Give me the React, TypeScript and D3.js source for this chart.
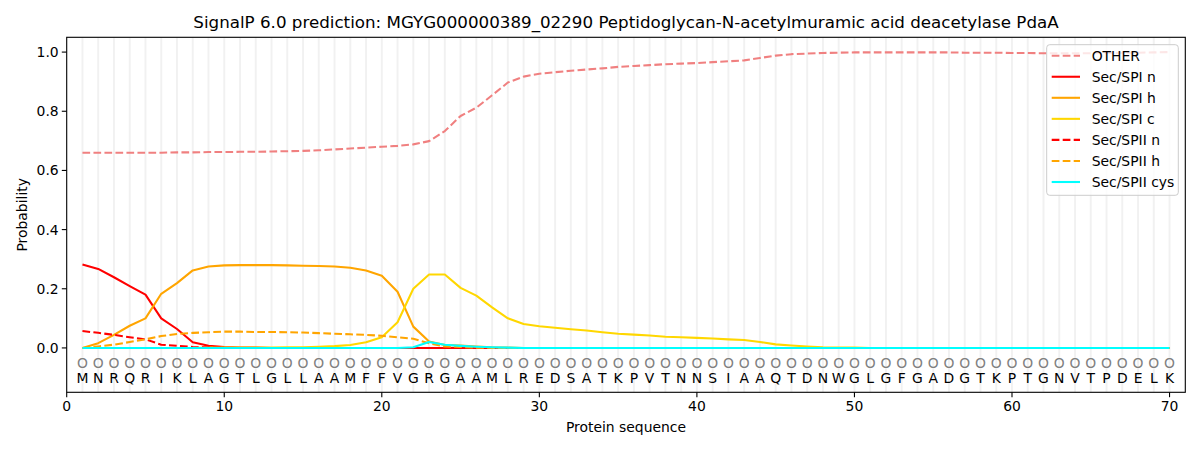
import React from "react";
import * as d3 from "d3";

const sequence = "MNRQRIKLAGTLGLLAAMFFVGRGAAMLREDSATKPVTNNSIAAQTDNWGLGFGADGTKPTGNVTPDELK".split("");
const predLabels = sequence.map(() => "O");

const other = [
  0.660, 0.660, 0.660, 0.660, 0.660, 0.660, 0.661, 0.661, 0.662, 0.662,
  0.663, 0.663, 0.664, 0.665, 0.666, 0.668, 0.671, 0.674, 0.677, 0.680,
  0.683, 0.688, 0.699, 0.733, 0.784, 0.812, 0.854, 0.897, 0.917, 0.927,
  0.932, 0.937, 0.941, 0.945, 0.950, 0.953, 0.956, 0.959, 0.961, 0.963,
  0.966, 0.969, 0.972, 0.980, 0.988, 0.993, 0.995, 0.997, 0.998, 0.999,
  0.999, 0.999, 0.999, 0.999, 0.999, 0.999, 0.998, 0.998, 0.998, 0.997,
  0.997, 0.996, 0.996, 0.996, 0.996, 0.997, 0.997, 0.998, 0.999, 1.000,
];
const spiN = [
  0.282, 0.267, 0.239, 0.209, 0.180, 0.100, 0.064, 0.019, 0.007, 0.003,
  0.001, 0.001, 0, 0, 0, 0, 0, 0, 0, 0,
  0, 0, 0, 0, 0, 0, 0, 0, 0, 0,
  0, 0, 0, 0, 0, 0, 0, 0, 0, 0,
  0, 0, 0, 0, 0, 0, 0, 0, 0, 0,
  0, 0, 0, 0, 0, 0, 0, 0, 0, 0,
  0, 0, 0, 0, 0, 0, 0, 0, 0, 0,
];
const spiH = [
  0.000, 0.016, 0.044, 0.075, 0.100, 0.183, 0.219, 0.262, 0.275, 0.279,
  0.280, 0.280, 0.280, 0.279, 0.278, 0.277, 0.275, 0.271, 0.262, 0.244,
  0.190, 0.072, 0.022, 0.010, 0.008, 0.005, 0.002, 0.001, 0, 0,
  0, 0, 0, 0, 0, 0, 0, 0, 0, 0,
  0, 0, 0, 0, 0, 0, 0, 0, 0, 0,
  0, 0, 0, 0, 0, 0, 0, 0, 0, 0,
  0, 0, 0, 0, 0, 0, 0, 0, 0, 0,
];
const spiC = [
  0, 0, 0, 0, 0, 0, 0, 0, 0.001, 0.001,
  0.001, 0.001, 0.001, 0.002, 0.002, 0.004, 0.006, 0.010, 0.019, 0.036,
  0.087, 0.200, 0.248, 0.248, 0.203, 0.177, 0.137, 0.100, 0.081, 0.073,
  0.068, 0.063, 0.059, 0.053, 0.048, 0.045, 0.042, 0.038, 0.036, 0.034,
  0.032, 0.029, 0.027, 0.020, 0.012, 0.008, 0.005, 0.002, 0.001, 0.001,
  0, 0, 0, 0, 0, 0, 0, 0, 0, 0,
  0, 0, 0, 0, 0, 0, 0, 0, 0, 0,
];
const spiiN = [
  0.057, 0.051, 0.044, 0.036, 0.029, 0.011, 0.007, 0.003, 0.001, 0,
  0, 0, 0, 0, 0, 0, 0, 0, 0, 0,
  0, 0, 0, 0, 0, 0, 0, 0, 0, 0,
  0, 0, 0, 0, 0, 0, 0, 0, 0, 0,
  0, 0, 0, 0, 0, 0, 0, 0, 0, 0,
  0, 0, 0, 0, 0, 0, 0, 0, 0, 0,
  0, 0, 0, 0, 0, 0, 0, 0, 0, 0,
];
const spiiH = [
  0.000, 0.005, 0.011, 0.020, 0.029, 0.040, 0.047, 0.051, 0.053, 0.055,
  0.055, 0.054, 0.054, 0.053, 0.052, 0.050, 0.048, 0.046, 0.044, 0.041,
  0.036, 0.031, 0.016, 0.005, 0.003, 0.001, 0, 0, 0, 0,
  0, 0, 0, 0, 0, 0, 0, 0, 0, 0,
  0, 0, 0, 0, 0, 0, 0, 0, 0, 0,
  0, 0, 0, 0, 0, 0, 0, 0, 0, 0,
  0, 0, 0, 0, 0, 0, 0, 0, 0, 0,
];
const spiiCys = [
  0, 0, 0, 0, 0, 0, 0, 0, 0, 0,
  0, 0, 0, 0, 0, 0, 0, 0, 0, 0,
  0, 0.002, 0.020, 0.011, 0.007, 0.004, 0.002, 0.001, 0, 0,
  0, 0, 0, 0, 0, 0, 0, 0, 0, 0,
  0, 0, 0, 0, 0, 0, 0, 0, 0, 0,
  0, 0, 0, 0, 0, 0, 0, 0, 0, 0,
  0, 0, 0, 0, 0, 0, 0, 0, 0, 0,
];

const seriesNames = ["OTHER", "Sec/SPI n", "Sec/SPI h", "Sec/SPI c", "Sec/SPII n", "Sec/SPII h", "Sec/SPII cys"];
const seriesValues = [other, spiN, spiH, spiC, spiiN, spiiH, spiiCys];
const seriesColors = ["#f08080", "#ff0000", "#ffa500", "#ffd700", "#ff0000", "#ffa500", "#00ffff"];
const seriesDashed = [true, false, false, false, true, true, false];

const xTicks = [0, 10, 20, 30, 40, 50, 60, 70];
const yTicks = [0, 0.2, 0.4, 0.6, 0.8, 1.0];

const W = 1200;
const H = 450;
const left = 66.7;
const right = 1185.3;
const top = 37.3;
const bottom = 392.3;
const FONT = "'DejaVu Sans', sans-serif";

export default function App() {
  const x = d3.scaleLinear().domain([0, 71]).range([left, right]);
  const y = d3.scaleLinear().domain([-0.15, 1.05]).range([bottom, top]);
  const positions = sequence.map((_, i) => i + 1);
  const line = d3
    .line<number>()
    .x((_, i) => x(i + 1))
    .y((d) => y(d));
  const dash = "7.7,3.3";
  const lw = 2.08;

  const legendX = 1046.7;
  const legendY = 44.7;
  const legendW = 131.6;
  const legendH = 150.6;
  const rowH = 21.05;

  return (
    <svg
      width={W}
      height={H}
      style={{ position: "absolute", left: 0, top: 0, background: "#fff" }}
      fontFamily={FONT}
    >
      <rect x={0} y={0} width={W} height={H} fill="#fff" />
      <text x={(left + right) / 2} y={28} textAnchor="middle" fontSize={16.7} fill="#000">
        SignalP 6.0 prediction: MGYG000000389_02290 Peptidoglycan-N-acetylmuramic acid deacetylase PdaA
      </text>
      <defs>
        <clipPath id="plotclip">
          <rect x={left} y={top} width={right - left} height={bottom - top} />
        </clipPath>
      </defs>
      <g clipPath="url(#plotclip)">
        {positions.map((p) => (
          <line key={"g" + p} x1={x(p)} x2={x(p)} y1={top} y2={bottom} stroke="#000" strokeOpacity={0.055} strokeWidth={2} />
        ))}
        {seriesValues.map((vals, k) => (
          <path
            key={"s" + k}
            d={line(vals) || ""}
            fill="none"
            stroke={seriesColors[k]}
            strokeWidth={lw}
            strokeDasharray={seriesDashed[k] ? dash : undefined}
            strokeLinejoin="round"
          />
        ))}
        {positions.map((p, i) => (
          <text key={"o" + p} x={x(p)} y={y(-0.05)} textAnchor="middle" dominantBaseline="central" fontSize={13.9} fill="#808080">
            {predLabels[i]}
          </text>
        ))}
        {positions.map((p, i) => (
          <text key={"a" + p} x={x(p)} y={y(-0.1)} textAnchor="middle" dominantBaseline="central" fontSize={13.9} fill="#000">
            {sequence[i]}
          </text>
        ))}
      </g>
      <rect x={left} y={top} width={right - left} height={bottom - top} fill="none" stroke="#000" strokeWidth={1.1} />
      {xTicks.map((t) => (
        <g key={"xt" + t}>
          <line x1={x(t)} x2={x(t)} y1={bottom} y2={bottom + 4.9} stroke="#000" strokeWidth={1.1} />
          <text x={x(t)} y={bottom + 18.5} textAnchor="middle" fontSize={13.9} fill="#000">
            {t}
          </text>
        </g>
      ))}
      {yTicks.map((t) => (
        <g key={"yt" + t}>
          <line x1={left - 4.9} x2={left} y1={y(t)} y2={y(t)} stroke="#000" strokeWidth={1.1} />
          <text x={left - 8} y={y(t)} textAnchor="end" dominantBaseline="central" fontSize={13.9} fill="#000">
            {t.toFixed(1)}
          </text>
        </g>
      ))}
      <text x={(left + right) / 2} y={432} textAnchor="middle" fontSize={13.9} fill="#000">
        Protein sequence
      </text>
      <text
        transform={`translate(27,${(top + bottom) / 2}) rotate(-90)`}
        textAnchor="middle"
        fontSize={13.9}
        fill="#000"
      >
        Probability
      </text>
      <g>
        <rect x={legendX} y={legendY} width={legendW} height={legendH} rx={3} fill="#fff" fillOpacity={0.8} stroke="#cccccc" strokeWidth={1} />
        {seriesNames.map((name, k) => {
          const cy = legendY + 11 + k * rowH;
          return (
            <g key={"l" + k}>
              <line
                x1={legendX + 5}
                x2={legendX + 33.3}
                y1={cy}
                y2={cy}
                stroke={seriesColors[k]}
                strokeWidth={lw}
                strokeDasharray={seriesDashed[k] ? dash : undefined}
              />
              <text x={legendX + 45} y={cy} dominantBaseline="central" fontSize={13.9} fill="#000">
                {name}
              </text>
            </g>
          );
        })}
      </g>
    </svg>
  );
}
